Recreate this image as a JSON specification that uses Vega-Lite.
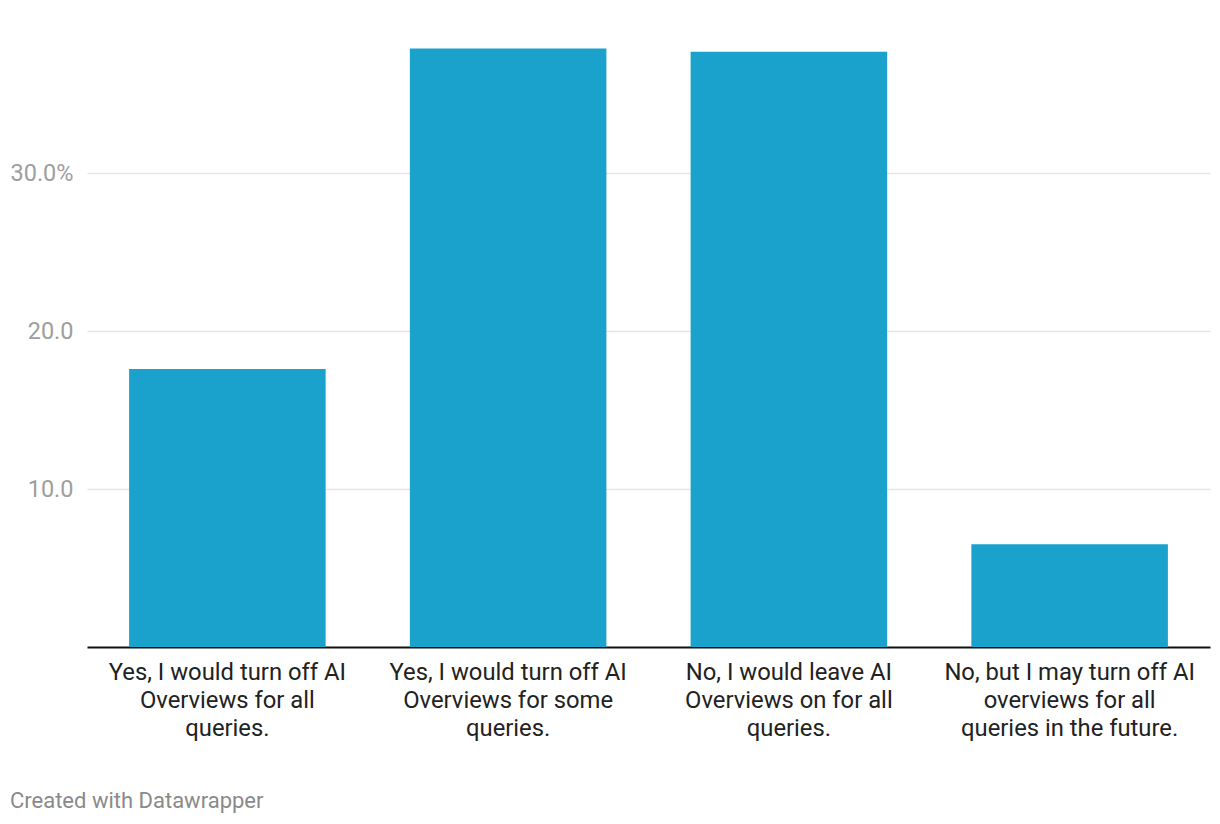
{
  "$schema": "https://vega.github.io/schema/vega-lite/v6.json",
  "width": 1123,
  "height": 608,
  "autosize": {"type": "none"},
  "padding": {"left": 87, "top": 39, "right": 10, "bottom": 177},
  "background": "white",
  "config": {
    "view": {"stroke": null},
    "font": "Roboto"
  },
  "title": {
    "text": "Created with Datawrapper",
    "orient": "bottom",
    "anchor": "start",
    "frame": "bounds",
    "font": "Roboto",
    "fontSize": 22,
    "fontWeight": "normal",
    "color": "#8a8a8a",
    "offset": 51
  },
  "data": {
    "values": [
      {"answer": "Yes, I would turn off AI Overviews for all queries.", "share": 17.6},
      {"answer": "Yes, I would turn off AI Overviews for some queries.", "share": 37.9},
      {"answer": "No, I would leave AI Overviews on for all queries.", "share": 37.7},
      {"answer": "No, but I may turn off AI overviews for all queries in the future.", "share": 6.5}
    ]
  },
  "mark": {"type": "bar", "color": "#1aa1cc"},
  "encoding": {
    "x": {
      "field": "answer",
      "type": "nominal",
      "sort": null,
      "scale": {"paddingInner": 0.3, "paddingOuter": 0.15},
      "axis": {
        "title": null,
        "labelAngle": 0,
        "labelFont": "Roboto",
        "labelFontSize": 23.8,
        "labelColor": "#222222",
        "labelLineHeight": 28,
        "labelPadding": 13,
        "labelLimit": 400,
        "ticks": false,
        "domainColor": "#111111",
        "domainWidth": 2,
        "labelExpr": "datum.value == 'Yes, I would turn off AI Overviews for all queries.' ? ['Yes, I would turn off AI', 'Overviews for all', 'queries.'] : datum.value == 'Yes, I would turn off AI Overviews for some queries.' ? ['Yes, I would turn off AI', 'Overviews for some', 'queries.'] : datum.value == 'No, I would leave AI Overviews on for all queries.' ? ['No, I would leave AI', 'Overviews on for all', 'queries.'] : ['No, but I may turn off AI', 'overviews for all', 'queries in the future.']"
      }
    },
    "y": {
      "field": "share",
      "type": "quantitative",
      "scale": {"domain": [0, 38.5], "nice": false, "zero": true},
      "axis": {
        "title": null,
        "values": [10, 20, 30],
        "domain": false,
        "ticks": false,
        "grid": true,
        "gridColor": "#e5e5e5",
        "gridWidth": 1.5,
        "labelFont": "Roboto",
        "labelFontSize": 23.5,
        "labelColor": "#9e9e9e",
        "labelPadding": 14,
        "labelExpr": "datum.value == 30 ? '30.0%' : format(datum.value, '.1f')"
      }
    }
  }
}
